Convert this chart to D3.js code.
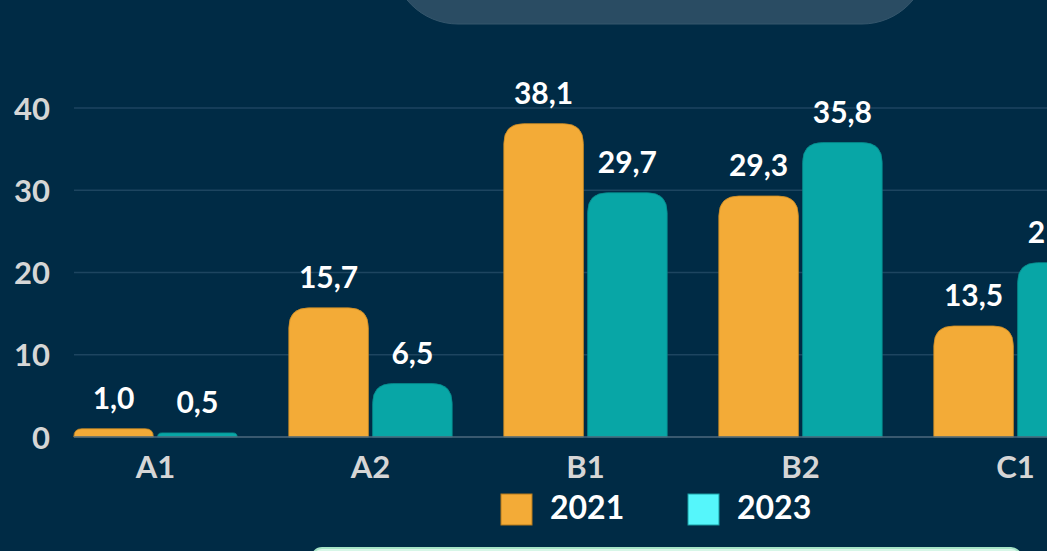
<!DOCTYPE html>
<html>
<head>
<meta charset="utf-8">
<script src="https://cdn.jsdelivr.net/npm/d3@7"></script>
<style>
  html, body { margin: 0; padding: 0; background: #002b45; overflow: hidden; }
  svg { display: block; font-family: Lato, "Open Sans", sans-serif; }
</style>
</head>
<body>
<svg id="viewport"></svg>
<script>
const categories = ["A1", "A2", "B1", "B2", "C1"];
const years = ["2021", "2023"];
const values2021 = [1.0, 15.7, 38.1, 29.3, 13.5];
const values2023 = [0.5, 6.5, 29.7, 35.8, 21.2];
const yTicks = [0, 10, 20, 30, 40];

const barColor = { "2021": "#f3ab37", "2023": "#08a6a6" };
const barStroke = { "2021": "#c98a25", "2023": "#06898a" };
const legendColor = { "2021": "#f3ab37", "2023": "#55f6fb" };
const legendStroke = { "2021": "#b57a1c", "2023": "#1a9ea3" };

const W = 1047, H = 551;
const svg = d3.select("#viewport").attr("width", W).attr("height", H);

// background shapes
svg.append("rect").attr("width", W).attr("height", H).attr("fill", "#002b45");
svg.append("rect")
  .attr("x", 392).attr("y", -120).attr("width", 536).attr("height", 144)
  .attr("rx", 66).attr("ry", 66)
  .attr("fill", "#2a4c63").attr("stroke", "#34566c").attr("stroke-width", 1);
svg.append("rect")
  .attr("x", 312).attr("y", 548).attr("width", 709).attr("height", 60)
  .attr("rx", 10).attr("ry", 10)
  .attr("fill", "#d8f7e8").attr("stroke", "#a6e4c6").attr("stroke-width", 2);

const data = categories.map((c, i) => ({ cat: c, "2021": values2021[i], "2023": values2023[i] }));

// step of 215px per category
const x = d3.scaleBand()
  .domain(categories)
  .range([48, 48 + 215 * categories.length])
  .paddingInner(0.24)
  .paddingOuter(0.12);
const xSub = d3.scaleBand().domain(years).range([0, x.bandwidth()]).paddingInner(0.05);
const y = d3.scaleLinear().domain([0, 40]).range([437, 108]);

const locale = d3.formatLocale({ decimal: ",", thousands: ".", grouping: [3], currency: ["", "€"] });
const fmt = locale.format(".1f");

// grid
const grid = svg.append("g");
grid.selectAll("line")
  .data(yTicks.filter(t => t > 0))
  .enter()
  .append("line")
  .attr("x1", 74).attr("x2", W)
  .attr("y1", d => y(d)).attr("y2", d => y(d))
  .attr("stroke", "#1d4560").attr("stroke-width", 1.5);

// y axis labels
const yAxis = svg.append("g")
  .attr("transform", "translate(50,0)")
  .call(d3.axisLeft(y).tickValues(yTicks).tickSize(0).tickPadding(0));
yAxis.select(".domain").remove();
yAxis.selectAll("text")
  .attr("fill", "#d6d6d6")
  .attr("font-size", 31)
  .attr("font-weight", 700)
  .attr("font-family", "Lato")
  .attr("dy", "0.36em");

// rounded-top bar path
const topRounded = (x0, w, yTop, y0) => {
  const h = y0 - yTop;
  const r = Math.min(20, h, w / 2);
  return `M ${x0} ${y0} L ${x0} ${yTop + r} Q ${x0} ${yTop} ${x0 + r} ${yTop}` +
    ` L ${x0 + w - r} ${yTop} Q ${x0 + w} ${yTop} ${x0 + w} ${yTop + r} L ${x0 + w} ${y0} Z`;
};

const groups = svg.append("g")
  .selectAll(".cat_group")
  .data(data)
  .enter()
  .append("g")
  .attr("class", "cat_group")
  .attr("transform", d => `translate(${x(d.cat)},0)`);

const bars = groups.selectAll(".bar")
  .data(d => years.map(k => ({ key: k, value: d[k] })))
  .enter();

bars.append("path")
  .attr("class", "bar")
  .attr("d", d => topRounded(xSub(d.key), xSub.bandwidth(), y(d.value), y(0)))
  .attr("fill", d => barColor[d.key])
  .attr("stroke", d => barStroke[d.key])
  .attr("stroke-width", 0.8);

bars.append("text")
  .attr("x", d => xSub(d.key) + xSub.bandwidth() / 2)
  .attr("y", d => y(d.value) - 20)
  .attr("text-anchor", "middle")
  .attr("fill", "#ffffff")
  .attr("font-size", 30)
  .attr("font-weight", 700)
  .text(d => fmt(d.value));

// baseline
svg.append("line")
  .attr("x1", 74).attr("x2", W)
  .attr("y1", y(0)).attr("y2", y(0))
  .attr("stroke", "#4d6a7e").attr("stroke-width", 1.5);

// x axis labels
const xAxis = svg.append("g")
  .attr("transform", `translate(0,${y(0)})`)
  .call(d3.axisBottom(x).tickSize(0).tickPadding(0));
xAxis.select(".domain").remove();
xAxis.selectAll("text")
  .attr("fill", "#d6d6d6")
  .attr("font-size", 31)
  .attr("font-weight", 700)
  .attr("font-family", "Lato")
  .attr("dy", null)
  .attr("y", 41);

// legend
const legendX = [501, 688];
const legend = svg.append("g")
  .selectAll(".legend")
  .data(years)
  .enter()
  .append("g")
  .attr("class", "legend")
  .attr("transform", (d, i) => `translate(${legendX[i]},494)`);
legend.append("rect")
  .attr("width", 31).attr("height", 31)
  .attr("fill", d => legendColor[d])
  .attr("stroke", d => legendStroke[d])
  .attr("stroke-width", 1);
legend.append("text")
  .attr("x", 49).attr("y", 24.5)
  .attr("fill", "#ffffff")
  .attr("font-size", 32)
  .attr("font-weight", 700)
  .text(d => d);
</script>
</body>
</html>
